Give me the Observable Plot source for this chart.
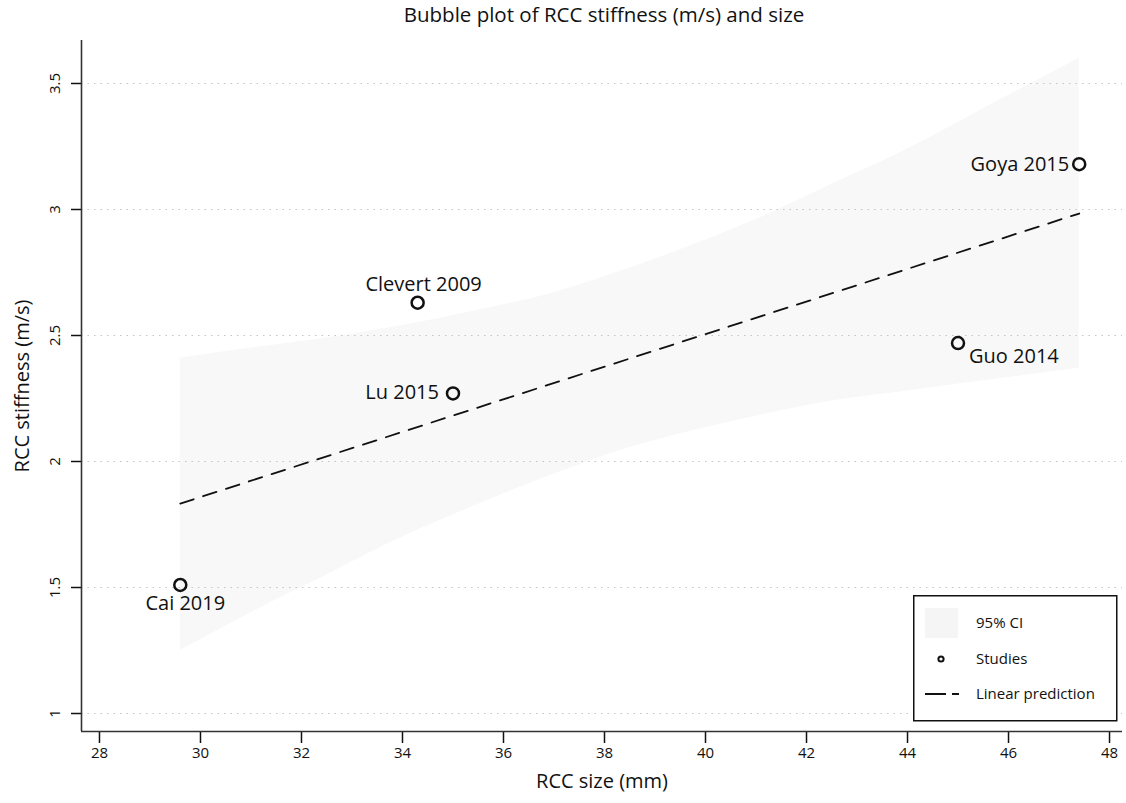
<!DOCTYPE html>
<html><head><meta charset="utf-8">
<script src="https://cdn.jsdelivr.net/npm/d3@7"></script>
<script src="https://cdn.jsdelivr.net/npm/@observablehq/plot@0.6"></script>
<style>
body{margin:0;background:#fff;font-family:"Open Sans",sans-serif;}
#wrap{position:relative;width:1126px;height:803px;overflow:hidden;}
#chart{position:absolute;left:0;top:0;}
#title{position:absolute;left:81px;top:0;width:1046px;text-align:center;font-size:20.5px;line-height:28px;color:#111;}
#legend{position:absolute;left:913px;top:595px;}
</style></head><body>
<div id="wrap"><div id="chart"></div><div id="title">Bubble plot of RCC stiffness (m/s) and size</div><div id="legend"></div></div>
<script>
// ---- data ----
const studyNames = ["Clevert 2009", "Lu 2015", "Goya 2015", "Guo 2014", "Cai 2019"];
const rccSize = [34.3, 35.0, 47.4, 45.0, 29.6];          // mm
const rccStiffness = [2.63, 2.27, 3.18, 2.47, 1.51];      // m/s
const ciX =     [29.6, 31.0, 32.5, 34.0, 35.5, 37.0, 38.1, 39.5, 41.0, 42.5, 44.0, 45.5, 47.4];
const ciLower = [1.25, 1.40, 1.55, 1.70, 1.83, 1.95, 2.03, 2.11, 2.18, 2.24, 2.28, 2.32, 2.37];
const ciUpper = [2.41, 2.45, 2.49, 2.54, 2.60, 2.67, 2.74, 2.84, 2.96, 3.10, 3.24, 3.40, 3.60];
const predX = [29.6, 47.4];
const predY = [1.833, 2.984];
const xTicks = [28, 30, 32, 34, 36, 38, 40, 42, 44, 46, 48];
const yTicks = [1, 1.5, 2, 2.5, 3, 3.5];
const legendLabels = ["95% CI", "Studies", "Linear prediction"];

// ---- tables ----
const studies = studyNames.map((name, i) => ({name, x: rccSize[i], y: rccStiffness[i]}));
const band = ciX.map((x, i) => ({x, lo: ciLower[i], hi: ciUpper[i]}));
const pred = predX.map((x, i) => ({x, y: predY[i]}));

const xDomain = [27.644, 48.257];
const yDomain = [0.9286, 3.6706];
const labelFont = 20;

const placement = {
  "Clevert 2009": {textAnchor: "middle", dx: 6, dy: -18},
  "Lu 2015": {textAnchor: "end", dx: -14, dy: -1},
  "Goya 2015": {textAnchor: "end", dx: -10, dy: 0},
  "Guo 2014": {textAnchor: "start", dx: 11, dy: 14},
  "Cai 2019": {textAnchor: "middle", dx: 5, dy: 19}
};

const labelMarks = studyNames.map(n => Plot.text(studies, {
  filter: d => d.name === n, x: "x", y: "y", text: "name",
  fontSize: labelFont, fill: "#111", ...placement[n]
}));

const chart = Plot.plot({
  width: 1126, height: 803,
  marginLeft: 81, marginRight: 4, marginTop: 40, marginBottom: 72,
  x: {domain: xDomain},
  y: {domain: yDomain},
  style: {fontFamily: "Open Sans, sans-serif", fontSize: "15px", color: "#111", background: "white", overflow: "visible"},
  marks: [
    Plot.areaY(band, {x: "x", y1: "lo", y2: "hi", fill: "#f8f8f8", curve: "monotone-x"}),
    Plot.gridY(yTicks, {stroke: "#c4c4c4", strokeOpacity: 1, strokeWidth: 1, strokeDasharray: "1.5,5"}),
    Plot.line(pred, {x: "x", y: "y", stroke: "#111", strokeWidth: 1.8, strokeDasharray: "14,10"}),
    Plot.dot(studies, {x: "x", y: "y", r: 6, stroke: "#111", strokeWidth: 2.5, fill: "none"}),
    ...labelMarks,
    Plot.axisX(xTicks, {tickSize: 12, tickPadding: 4, label: null, fontSize: 15, stroke: "#111", strokeWidth: 1.5}),
    Plot.axisY(yTicks, {tickSize: 10, tickPadding: 12, tickRotate: -90, label: null, fontSize: 15, tickFormat: d => String(d), stroke: "#111", strokeWidth: 1.5}),
    Plot.ruleX([xDomain[0]], {stroke: "#333", strokeWidth: 1.6}),
    Plot.ruleY([yDomain[0]], {stroke: "#333", strokeWidth: 1.6}),
    Plot.text(["RCC size (mm)"], {frameAnchor: "bottom", dy: 56, fontSize: 20, fill: "#111"}),
    Plot.text(["RCC stiffness (m/s)"], {frameAnchor: "left", textAnchor: "middle", dx: -59, rotate: -90, fontSize: 20, fill: "#111"})
  ]
});
document.getElementById("chart").appendChild(chart);

// ---- legend ----
const lg = d3.select("#legend").append("svg").attr("width", 206).attr("height", 128)
  .style("font-family", "Open Sans, sans-serif").style("font-size", "15px");
lg.append("rect").attr("x", 0.75).attr("y", 0.75).attr("width", 203).attr("height", 125)
  .attr("fill", "white").attr("stroke", "#111").attr("stroke-width", 1.5);
lg.append("rect").attr("x", 12).attr("y", 13).attr("width", 33).attr("height", 30).attr("fill", "#f5f5f5");
lg.append("circle").attr("cx", 28).attr("cy", 64).attr("r", 2.6).attr("fill", "none").attr("stroke", "#111").attr("stroke-width", 2);
lg.append("line").attr("x1", 12).attr("x2", 46).attr("y1", 99).attr("y2", 99)
  .attr("stroke", "#111").attr("stroke-width", 1.8).attr("stroke-dasharray", "21,6");
const ly = [28, 64, 99];
legendLabels.forEach((t, i) => lg.append("text").attr("x", 63).attr("y", ly[i]).attr("dy", "0.35em").attr("fill", "#111").text(t));
</script>
</body></html>
